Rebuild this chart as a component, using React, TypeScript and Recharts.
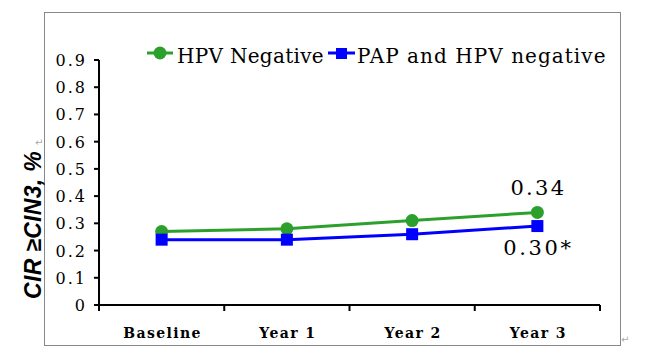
import React from "react";
import { LineChart, Line, XAxis, YAxis, LabelList, Label } from "recharts";

const categories = ["Baseline", "Year 1", "Year 2", "Year 3"];
const hpvNegative = [0.27, 0.28, 0.31, 0.34];
const papHpvNegative = [0.24, 0.24, 0.26, 0.29];
const hpvLabels = ["", "", "", "0.34"];
const papLabels = ["", "", "", "0.30*"];
const yTicks = [0, 0.1, 0.2, 0.3, 0.4, 0.5, 0.6, 0.7, 0.8, 0.9];

const GREEN = "#2ca02c";
const BLUE = "#0000ff";
const SERIF = "DejaVu Serif, serif";

const data = categories.map((c, i) => ({
  pos: i + 0.5,
  name: c,
  hpv: hpvNegative[i],
  pap: papHpvNegative[i],
  hpvLabel: hpvLabels[i],
  papLabel: papLabels[i],
}));

// tick marks sit between the categories, labels at the centres
const xTicks: number[] = [];
for (let i = 0; i <= categories.length; i++) {
  xTicks.push(i);
  if (i < categories.length) xTicks.push(i + 0.5);
}

const XTick = ({ x, y, payload }: any) => {
  const v = payload.value;
  if (Number.isInteger(v)) {
    return <line x1={x} x2={x} y1={y} y2={y + 6} stroke="#000" strokeWidth={2} />;
  }
  return (
    <text x={x + 1} y={y + 33} textAnchor="middle" style={{ fontFamily: SERIF }} fontWeight="bold" fontSize={14} letterSpacing={1.4} fill="#000">
      {categories[Math.floor(v)]}
    </text>
  );
};

const YTick = ({ x, y, payload }: any) => (
  <text x={x - 7} y={y + 6} textAnchor="end" style={{ fontFamily: SERIF }} fontSize={16} letterSpacing={2} fill="#000">
    {payload.value === 0 ? "0" : payload.value.toFixed(1)}
  </text>
);

const SquareDot = ({ cx, cy }: any) => <rect x={cx - 6} y={cy - 6} width={12} height={12} fill={BLUE} />;

const TopLabel = ({ x, y, value }: any) =>
  value ? (
    <text x={x + 1} y={y - 17} textAnchor="middle" style={{ fontFamily: SERIF }} fontSize={21} letterSpacing={2.3} fill="#000">{value}</text>
  ) : null;

const BottomLabel = ({ x, y, value }: any) =>
  value ? (
    <text x={x + 1} y={y + 29} textAnchor="middle" style={{ fontFamily: SERIF }} fontSize={21} letterSpacing={2.6} fill="#000">{value}</text>
  ) : null;

const YLabel = () => (
  <text
    x={41}
    y={225}
    transform="rotate(-90 41 225)"
    textAnchor="middle"
    style={{ fontFamily: "Liberation Sans, Arial, sans-serif" }}
    fontWeight="bold"
    fontStyle="italic"
    fontSize={23}
    letterSpacing={0.3}
    fill="#000"
  >
    CIR ≥CIN3, %
  </text>
);

export default function App() {
  return (
    <div style={{ position: "absolute", left: 0, top: 0, width: 659, height: 356, background: "#fff" }}>
      <div style={{ position: "absolute", left: 44, top: 12, width: 575, height: 332, border: "1px solid #888" }} />
      <div style={{ position: "absolute", left: 0, top: 0 }}>
        <LineChart width={659} height={356} data={data} margin={{ top: 60, right: 59, left: 0, bottom: 21 }}>
          <XAxis
            dataKey="pos"
            type="number"
            height={30}
            domain={[0, categories.length]}
            ticks={xTicks}
            interval={0}
            tickSize={0}
            tickMargin={0}
            tickLine={false}
            axisLine={{ stroke: "#000", strokeWidth: 2 }}
            tick={<XTick />}
          />
          <YAxis
            width={99}
            domain={[0, 0.9]}
            ticks={yTicks}
            interval={0}
            tickSize={5}
            tickMargin={0}
            tickLine={{ stroke: "#000", strokeWidth: 2 }}
            axisLine={{ stroke: "#000", strokeWidth: 2 }}
            tick={<YTick />}
          >
            <Label content={<YLabel />} />
          </YAxis>
          <Line
            dataKey="hpv"
            name="HPV Negative"
            stroke={GREEN}
            strokeWidth={3}
            dot={{ r: 6.5, fill: GREEN, stroke: "none" }}
            isAnimationActive={false}
          >
            <LabelList dataKey="hpvLabel" content={<TopLabel />} />
          </Line>
          <Line
            dataKey="pap"
            name="PAP and HPV negative"
            stroke={BLUE}
            strokeWidth={3}
            dot={<SquareDot />}
            isAnimationActive={false}
          >
            <LabelList dataKey="papLabel" content={<BottomLabel />} />
          </Line>
        </LineChart>
      </div>
      <svg width={659} height={356} style={{ position: "absolute", left: 0, top: 0, pointerEvents: "none" }}>
        <line x1={147} x2={173} y1={53} y2={53} stroke={GREEN} strokeWidth={3} />
        <circle cx={160} cy={53} r={6.5} fill={GREEN} />
        <text x={177} y={63} style={{ fontFamily: SERIF }} fontSize={20} letterSpacing={0.3} fill="#000">HPV Negative</text>
        <line x1={328} x2={355} y1={53} y2={53} stroke={BLUE} strokeWidth={3} />
        <rect x={336} y={48} width={11} height={11} fill={BLUE} />
        <text x={357} y={63} style={{ fontFamily: SERIF }} fontSize={20} letterSpacing={1.05} fill="#000">PAP and HPV negative</text>
        <text x={35} y={146} fontSize={10} fill="#aaa" style={{ fontFamily: "DejaVu Sans, sans-serif" }}>↵</text>
        <text x={621} y={343} fontSize={10} fill="#aaa" style={{ fontFamily: "DejaVu Sans, sans-serif" }}>↵</text>
      </svg>
    </div>
  );
}
